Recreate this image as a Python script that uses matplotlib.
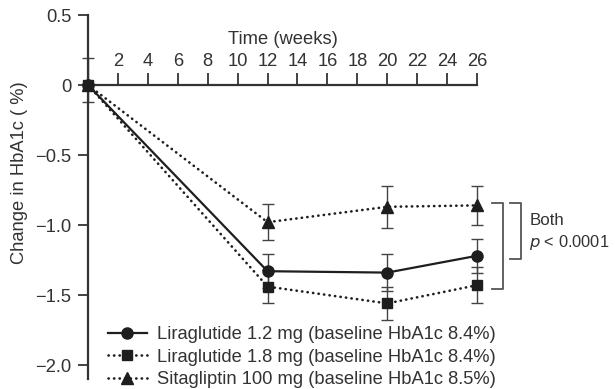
import matplotlib
matplotlib.use("Agg")
import matplotlib.pyplot as plt

plt.rcParams['font.family'] = ['Liberation Sans', 'DejaVu Sans']

weeks = [0, 12, 20, 26]
lira12 = [0.0, -1.33, -1.34, -1.22]
lira12_err = [0.0, 0.12, 0.13, 0.12]
lira18 = [0.0, -1.44, -1.56, -1.43]
lira18_err = [0.0, 0.12, 0.12, 0.13]
sita = [0.0, -0.98, -0.87, -0.86]
sita_err = [0.0, 0.13, 0.15, 0.14]
zero_err_low = [0.12]
zero_err_high = [0.19]

xticks = [2, 4, 6, 8, 10, 12, 14, 16, 18, 20, 22, 24, 26]
yticks = [0.5, 0, -0.5, -1.0, -1.5, -2.0]
ytick_labels = ['0.5', '0', '\u22120.5', '\u22121.0', '\u22121.5', '\u22122.0']
labels = ['Liraglutide 1.2 mg (baseline HbA1c 8.4%)',
          'Liraglutide 1.8 mg (baseline HbA1c 8.4%)',
          'Sitagliptin 100 mg (baseline HbA1c 8.5%)']

W, H = 615, 389
fig = plt.figure(figsize=(W / 100, H / 100), dpi=100)
ax = fig.add_axes([88 / W, 1 - 379 / H, 389 / W, 364 / H])
ax.set_xlim(0, 26)
ax.set_ylim(-2.1, 0.5)

dark = '#1e1e1e'
txt = '#333333'
fs = 13.2
dots = (0, (0.1, 2.0))

ekw = dict(fmt='none', ecolor='#444444', elinewidth=1.0, capsize=4.5, capthick=1.0,
           clip_on=False, zorder=2)
ax.errorbar(weeks[1:], sita[1:], yerr=sita_err[1:], **ekw)
ax.errorbar(weeks[1:], lira18[1:], yerr=lira18_err[1:], **ekw)
ax.errorbar(weeks[1:], lira12[1:], yerr=lira12_err[1:], **ekw)
ax.errorbar([weeks[0]], [lira12[0]], yerr=[zero_err_low, zero_err_high], **ekw)

l3, = ax.plot(weeks, sita, linestyle=dots, dash_capstyle='round', color=dark, lw=1.9,
              marker='^', ms=8, clip_on=False, zorder=3)
l2, = ax.plot(weeks, lira18, linestyle=dots, dash_capstyle='round', color=dark, lw=1.9,
              marker='s', ms=7.5, clip_on=False, zorder=3)
l1, = ax.plot(weeks, lira12, linestyle='-', color=dark, lw=1.6,
              marker='o', ms=8, clip_on=False, zorder=4)

# axes styling
for s in ['right', 'bottom']:
    ax.spines[s].set_visible(False)
ax.spines['left'].set_linewidth(1.6)
ax.spines['left'].set_color('#333333')
ax.spines['top'].set_position(('data', 0))
ax.spines['top'].set_bounds(0, 26)
ax.spines['top'].set_linewidth(1.6)
ax.spines['top'].set_color('#333333')
ax.xaxis.tick_top()
ax.set_xticks(xticks)
ax.set_xticklabels([str(t) for t in xticks])
ax.tick_params(axis='x', direction='out', length=8.5, width=1.3, colors='#333333',
               labelsize=fs, pad=2, labelcolor=txt)
ax.set_yticks(yticks)
ax.set_yticklabels(ytick_labels)
ax.tick_params(axis='y', direction='out', length=7, width=1.3, colors='#333333',
               labelsize=fs, pad=5, labelcolor=txt)
ax.xaxis.set_label_position('top')
ax.set_xlabel('Time (weeks)', fontsize=fs, color=txt, labelpad=7)

fig.text(20 / W, 1 - 173 / H, 'Change in HbA1c ( %)', rotation=90, ha='center', va='center',
         fontsize=fs, color=txt)

# significance brackets
bc = '#555555'
ax.plot([27.0, 27.75, 27.75, 27.0], [-0.84, -0.84, -1.455, -1.455], color=bc, lw=1.3,
        clip_on=False)
ax.plot([28.2, 28.95, 28.95, 28.2], [-0.84, -0.84, -1.24, -1.24], color=bc, lw=1.3,
        clip_on=False)
fig.text(530 / W, 1 - 221 / H, 'Both', ha='left', va='center', fontsize=12.2, color=txt)
fig.text(529 / W, 1 - 243 / H, r'$p$ < 0.0001', ha='left', va='center', fontsize=11.8,
         color=txt)

leg = ax.legend([l1, l2, l3], labels, loc='upper left',
                bbox_to_anchor=(108 / W, 1 - 326 / H), bbox_transform=fig.transFigure,
                frameon=False, fontsize=fs, handlelength=2.1, handletextpad=0.55,
                labelspacing=0.3, borderpad=0, borderaxespad=0)
for t in leg.get_texts():
    t.set_color(txt)

fig.savefig('out.png', dpi=100)
